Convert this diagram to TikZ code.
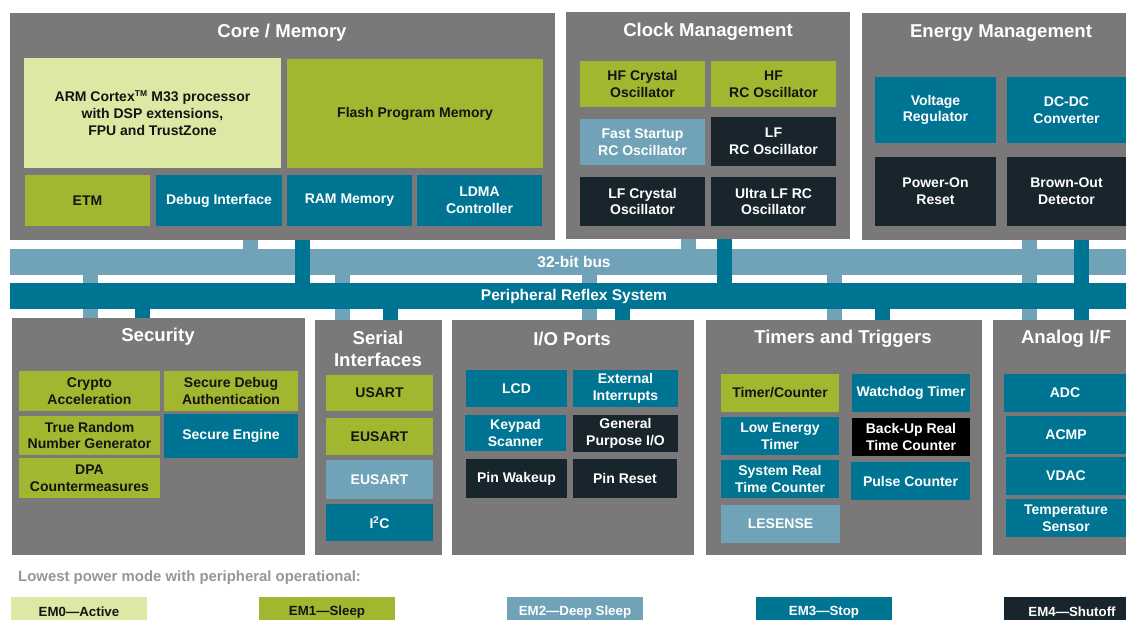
\documentclass[tikz,border=0pt]{standalone}
\usepackage{fontspec}
\setmainfont{Liberation Sans}
\definecolor{pg}{RGB}{122,120,120}
\definecolor{lg}{RGB}{220,232,164}
\definecolor{gr}{RGB}{162,183,47}
\definecolor{lb}{RGB}{112,163,184}
\definecolor{tl}{RGB}{0,117,147}
\definecolor{dk}{RGB}{25,37,45}
\definecolor{txt}{RGB}{20,20,20}
\definecolor{leg}{RGB}{150,150,150}
\newcommand\bx[7]{\node[#6, minimum width={#4pt-#2pt}, minimum height={#5pt-#3pt}] (#1) at ({(#2+#4)/2},{(#3+#5)/2}) {#7};}
\begin{document}
\begin{tikzpicture}[x=1pt,y=-1pt,
  box/.style={inner sep=0pt, outer sep=0pt, align=center, font=\fontsize{14}{16.7}\selectfont\bfseries},
  gA/.style={box, fill=lg, text=txt},
  gB/.style={box, fill=gr, text=txt},
  bA/.style={box, fill=lb, text=white},
  bB/.style={box, fill=tl, text=white},
  dA/.style={box, fill=dk, text=white},
  kA/.style={box, fill=black, text=white},
  panel/.style={inner sep=0pt, outer sep=0pt, fill=pg},
  ttl/.style={text=white, font=\fontsize{18.6}{22.4}\selectfont\bfseries, align=center, inner sep=0pt},
  busbar/.style={box, font=\fontsize{15.5}{18}\selectfont\bfseries, text=white},
  legbox/.style={box, font=\fontsize{13.3}{16}\selectfont\bfseries},
  stubL/.style={draw=lb, line width=15pt},
  stubD/.style={draw=tl, line width=15pt}]
\useasboundingbox (0,0) rectangle (1126,619);
\clip (0,0) rectangle (1126,619);

% ---------- Core / Memory ----------
\bx{core}{10}{13}{555}{240}{panel}{}
\node[ttl] (coreT) at (282,33) {Core / Memory};
\bx{arm}{24}{58}{281}{168}{gA}{ARM Cortex\textsuperscript{\fontsize{8.5}{9}\selectfont TM} M33 processor\\with DSP extensions,\\FPU and TrustZone}
\bx{flash}{287}{59}{543}{168}{gB}{Flash Program Memory}
\bx{etm}{25}{175}{150}{226}{gB}{ETM}
\bx{dbg}{156}{175}{282}{226}{bB}{Debug Interface}
\bx{ram}{287}{175}{412}{226}{bB}{RAM Memory}
\bx{ldma}{417}{175}{542}{226}{bB}{LDMA\\Controller}

% ---------- Clock Management ----------
\bx{clock}{566}{12}{850}{239}{panel}{}
\node[ttl] (clockT) at (708,32) {Clock Management};
\bx{hfx}{580}{61}{705}{107}{gB}{HF Crystal\\Oscillator}
\bx{hfrc}{711}{61}{836}{107}{gB}{HF\\RC Oscillator}
\bx{fsrc}{580}{119}{705}{165}{bA}{Fast Startup\\RC Oscillator}
\bx{lfrc}{711}{117}{836}{166}{dA}{LF\\RC Oscillator}
\bx{lfx}{580}{177}{705}{226}{dA}{LF Crystal\\Oscillator}
\bx{ulfrc}{711}{177}{836}{226}{dA}{Ultra LF RC\\Oscillator}

% ---------- Energy Management ----------
\bx{energy}{862}{13}{1126}{240}{panel}{}
\node[ttl] (energyT) at (1001,33) {Energy Management};
\bx{vreg}{875}{77}{996}{143}{bB}{Voltage\\Regulator}
\bx{dcdc}{1007}{77}{1126}{143}{bB}{DC-DC\\Converter}
\bx{por}{875}{157}{996}{226}{dA}{Power-On\\Reset}
\bx{bod}{1007}{157}{1126}{226}{dA}{Brown-Out\\Detector}

% ---------- Security ----------
\bx{sec}{12}{318}{305}{555}{panel}{}
\node[ttl] (secT) at (158,337) {Security};
\bx{crypto}{19}{371}{160}{411}{gB}{Crypto\\Acceleration}
\bx{sda}{164}{371}{298}{411}{gB}{Secure Debug\\Authentication}
\bx{trng}{19}{416}{160}{455}{gB}{True Random\\Number Generator}
\bx{se}{164}{414}{298}{458}{bB}{Secure Engine}
\bx{dpa}{19}{458}{160}{498}{gB}{DPA\\Countermeasures}

% ---------- Serial Interfaces ----------
\bx{ser}{315}{320}{442}{555}{panel}{}
\node[ttl] (serT) at (378,349) {Serial\\Interfaces};
\bx{usart}{326}{375}{433}{411}{gB}{USART}
\bx{eusartA}{326}{418}{433}{455}{gB}{EUSART}
\bx{eusartB}{326}{460}{433}{499}{bA}{EUSART}
\bx{iic}{326}{504}{433}{541}{bB}{I\textsuperscript{2}C}

% ---------- I/O Ports ----------
\bx{io}{452}{320}{694}{555}{panel}{}
\node[ttl] (ioT) at (572,339) {I/O Ports};
\bx{lcd}{466}{370}{567}{407}{bB}{LCD}
\bx{exti}{573}{370}{678}{407}{bB}{External\\Interrupts}
\bx{keypad}{465}{415}{566}{451}{bB}{Keypad\\Scanner}
\bx{gpio}{573}{415}{678}{452}{dA}{General\\Purpose I/O}
\bx{pinwk}{466}{459}{567}{498}{dA}{Pin Wakeup}
\bx{pinrst}{573}{459}{677}{498}{dA}{Pin Reset}

% ---------- Timers and Triggers ----------
\bx{tim}{706}{320}{982}{555}{panel}{}
\node[ttl] (timT) at (843,339) {Timers and Triggers};
\bx{tc}{721}{374}{839}{412}{gB}{Timer/Counter}
\bx{wdog}{852}{374}{970}{412}{bB}{Watchdog Timer}
\bx{letim}{721}{417}{839}{455}{bB}{Low Energy\\Timer}
\bx{burtc}{852}{418}{970}{456}{kA}{Back-Up Real\\Time Counter}
\bx{sysrtc}{721}{460}{839}{498}{bB}{System Real\\Time Counter}
\bx{pcnt}{851}{462}{970}{500}{bB}{Pulse Counter}
\bx{lesense}{721}{505}{840}{543}{bA}{LESENSE}

% ---------- Analog I/F ----------
\bx{ana}{993}{320}{1126}{555}{panel}{}
\node[ttl] (anaT) at (1066,339) {Analog I/F};
\bx{adc}{1004}{374}{1126}{412}{bB}{ADC}
\bx{acmp}{1006}{416}{1126}{454}{bB}{ACMP}
\bx{vdac}{1006}{457}{1126}{495}{bB}{VDAC}
\bx{temp}{1006}{499}{1126}{537}{bB}{Temperature\\Sensor}

% ---------- Buses ----------
\bx{bus}{10}{249}{1126}{275}{busbar, fill=lb}{\hspace*{12pt}32-bit bus}
\bx{prs}{10}{283}{1126}{309}{busbar, fill=tl}{\hspace*{12pt}Peripheral Reflex System}

% ---------- Bus connectors ----------
\coordinate (xa) at (250.5,0);  \coordinate (xb) at (302.5,0);
\coordinate (xc) at (688.5,0);  \coordinate (xd) at (724.5,0);
\coordinate (xe) at (1029.5,0); \coordinate (xf) at (1081.5,0);
\coordinate (xg) at (90.5,0);   \coordinate (xh) at (142.5,0);
\coordinate (xi) at (342.5,0);  \coordinate (xj) at (390,0);
\coordinate (xk) at (589.5,0);  \coordinate (xl) at (622.5,0);
\coordinate (xm) at (834.5,0);  \coordinate (xn) at (882.5,0);

\draw[stubL] (core.south -| xa) -- (bus.north -| xa);
\draw[stubL] (clock.south -| xc) -- (bus.north -| xc);
\draw[stubL] (energy.south -| xe) -- (bus.north -| xe);
\foreach \c/\p in {xg/sec, xi/ser, xk/io, xm/tim, xe/ana} {
  \draw[stubL] (bus.south -| \c) -- (prs.north -| \c);
  \draw[stubL] (prs.south -| \c) -- (\p.north -| \c);
}
\draw[stubD] (core.south -| xb) -- (prs.north -| xb);
\draw[stubD] (clock.south -| xd) -- (prs.north -| xd);
\draw[stubD] (energy.south -| xf) -- (ana.north -| xf);
\foreach \c/\p in {xh/sec, xj/ser, xl/io, xn/tim} {
  \draw[stubD] (prs.south -| \c) -- (\p.north -| \c);
}

% ---------- Legend ----------
\node[anchor=west, inner sep=0pt, text=leg, font=\fontsize{14.9}{17}\selectfont\bfseries] (legT) at (18,578) {Lowest power mode with peripheral operational:};
\bx{em0}{11}{597}{147}{627}{legbox, fill=lg, text=txt}{EM0—Active}
\bx{em1}{259}{597}{395}{627}{legbox, fill=gr, text=txt}{EM1—Sleep}
\bx{em2}{507}{597}{643}{627}{legbox, fill=lb, text=white}{EM2—Deep Sleep}
\bx{em3}{756}{597}{892}{627}{legbox, fill=tl, text=white}{EM3—Stop}
\bx{em4}{1004}{597}{1140}{627}{legbox, fill=dk, text=white}{EM4—Shutoff}
\end{tikzpicture}
\end{document}
